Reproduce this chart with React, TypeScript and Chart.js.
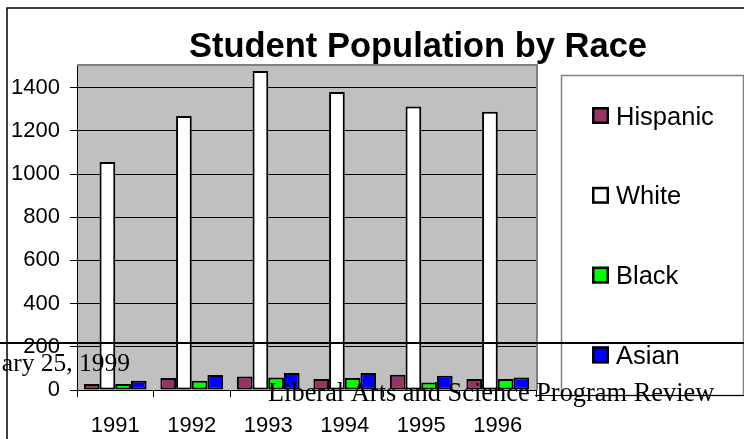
import React, { useEffect, useRef } from "react";
import { Chart, registerables } from "chart.js";

Chart.register(...registerables);

// Enrolment by year and group
const years = ["1991", "1992", "1993", "1994", "1995", "1996"];
const hispanic = [28, 56, 63, 51, 71, 51];
const white = [1055, 1268, 1477, 1380, 1312, 1288];
const black = [28, 43, 58, 56, 35, 51];
const asian = [43, 70, 79, 79, 66, 58];

const seriesNames = ["Hispanic", "White", "Black", "Asian"];
const seriesColors = ["#993366", "#FFFFFF", "#00FF00", "#0000FF"];
const yTicks = [0, 200, 400, 600, 800, 1000, 1200, 1400];
const yMax = 1500;

const chartTitle = "Student Population by Race";
const footerDate = "ary 25, 1999";
const footerTitle = "Liberal Arts and Science Program Review";

const SANS = "'Liberation Sans', Arial, sans-serif";
const SERIF = "'Liberation Serif', 'Times New Roman', serif";

// Plot background, frame, title, legend and the slide's footer text
const decorPlugin = {
  id: "decor",
  beforeDraw(chart: any) {
    const { ctx, chartArea: a } = chart;
    ctx.save();
    ctx.fillStyle = "#FFFFFF";
    ctx.fillRect(0, 0, chart.width, chart.height);
    ctx.fillStyle = "#C0C0C0";
    ctx.fillRect(a.left, a.top, a.right - a.left, a.bottom - a.top);
    ctx.restore();
  },
  afterDraw(chart: any) {
    const { ctx, chartArea: a } = chart;
    ctx.save();

    // grey edge along the top and right of the plot
    ctx.strokeStyle = "#808080";
    ctx.lineWidth = 2;
    ctx.beginPath();
    ctx.moveTo(a.left, a.top - 1);
    ctx.lineTo(a.right + 1, a.top - 1);
    ctx.lineTo(a.right + 1, a.bottom);
    ctx.stroke();

    // outer frame
    ctx.strokeStyle = "#000000";
    ctx.lineWidth = 1.5;
    ctx.beginPath();
    ctx.moveTo(7, chart.height);
    ctx.lineTo(7, 8);
    ctx.lineTo(chart.width, 8);
    ctx.stroke();

    // title
    ctx.fillStyle = "#000000";
    ctx.font = `bold 34.5px ${SANS}`;
    ctx.textAlign = "center";
    ctx.textBaseline = "alphabetic";
    ctx.fillText(chartTitle, 418, 57);

    // legend
    ctx.strokeStyle = "#808080";
    ctx.lineWidth = 1.5;
    ctx.strokeRect(561.5, 75.5, 182, 320);
    ctx.font = `25.5px ${SANS}`;
    ctx.textAlign = "left";
    chart.data.datasets.forEach((ds: any, i: number) => {
      const cy = 115.5 + i * 79.8;
      ctx.fillStyle = ds.backgroundColor;
      ctx.fillRect(592, cy - 8.5, 17, 17);
      ctx.strokeStyle = "#000000";
      ctx.lineWidth = 2.5;
      ctx.strokeRect(593.25, cy - 7.25, 14.5, 14.5);
      ctx.fillStyle = "#000000";
      ctx.fillText(ds.label, 616, cy + 9);
    });

    // slide rule lines
    ctx.strokeStyle = "#000000";
    ctx.lineWidth = 2;
    ctx.beginPath();
    ctx.moveTo(0, 343);
    ctx.lineTo(chart.width, 343);
    ctx.stroke();
    ctx.lineWidth = 1;
    ctx.beginPath();
    ctx.moveTo(535, 395.5);
    ctx.lineTo(chart.width, 395.5);
    ctx.stroke();

    // slide footer text
    ctx.fillStyle = "#000000";
    ctx.font = `25.5px ${SERIF}`;
    ctx.textAlign = "right";
    ctx.fillText(footerDate, 130, 371);
    ctx.font = `26.4px ${SERIF}`;
    ctx.textAlign = "left";
    ctx.fillText(footerTitle, 268, 401);

    ctx.restore();
  },
};

export default function App() {
  const canvasRef = useRef<HTMLCanvasElement | null>(null);

  useEffect(() => {
    if (!canvasRef.current) return;
    const values = [hispanic, white, black, asian];
    const chart = new Chart(canvasRef.current, {
      type: "bar",
      data: {
        labels: years,
        datasets: seriesNames.map((name, i) => ({
          label: name,
          data: values[i],
          backgroundColor: seriesColors[i],
          borderColor: "#000000",
          borderWidth: 2,
          borderSkipped: false,
          categoryPercentage: 0.82,
          barPercentage: 1.0,
        })),
      },
      options: {
        responsive: false,
        animation: false,
        devicePixelRatio: 1,
        layout: { padding: { top: 66, right: 208, left: 0, bottom: 0 } },
        plugins: {
          legend: { display: false },
          title: { display: false },
          tooltip: { enabled: false },
        },
        scales: {
          x: {
            offset: true,
            grid: {
              offset: true,
              drawOnChartArea: false,
              drawTicks: true,
              tickLength: 7,
              color: "#000000",
              lineWidth: 1,
            },
            border: { display: true, color: "#000000", width: 1 },
            ticks: {
              color: "#000000",
              font: { family: SANS, size: 22 },
              padding: 16,
              maxRotation: 0,
              autoSkip: false,
            },
            afterFit(scale: any) {
              scale.height = 49;
            },
          },
          y: {
            min: 0,
            max: yMax,
            afterBuildTicks(scale: any) {
              scale.ticks = yTicks.map((v) => ({ value: v }));
            },
            grid: {
              color: "#000000",
              lineWidth: 1,
              drawTicks: true,
              tickLength: 7,
            },
            border: { display: true, color: "#000000", width: 1 },
            ticks: {
              color: "#000000",
              font: { family: SANS, size: 22 },
              padding: 10,
              callback: (v: any) => String(v),
            },
            afterFit(scale: any) {
              scale.width = 77;
            },
          },
        },
      },
      plugins: [decorPlugin],
    });
    return () => chart.destroy();
  }, []);

  return (
    <div
      style={{
        position: "fixed",
        left: 0,
        top: 0,
        width: 744,
        height: 439,
        background: "#FFFFFF",
      }}
    >
      <canvas ref={canvasRef} width={744} height={439} style={{ display: "block" }} />
    </div>
  );
}
